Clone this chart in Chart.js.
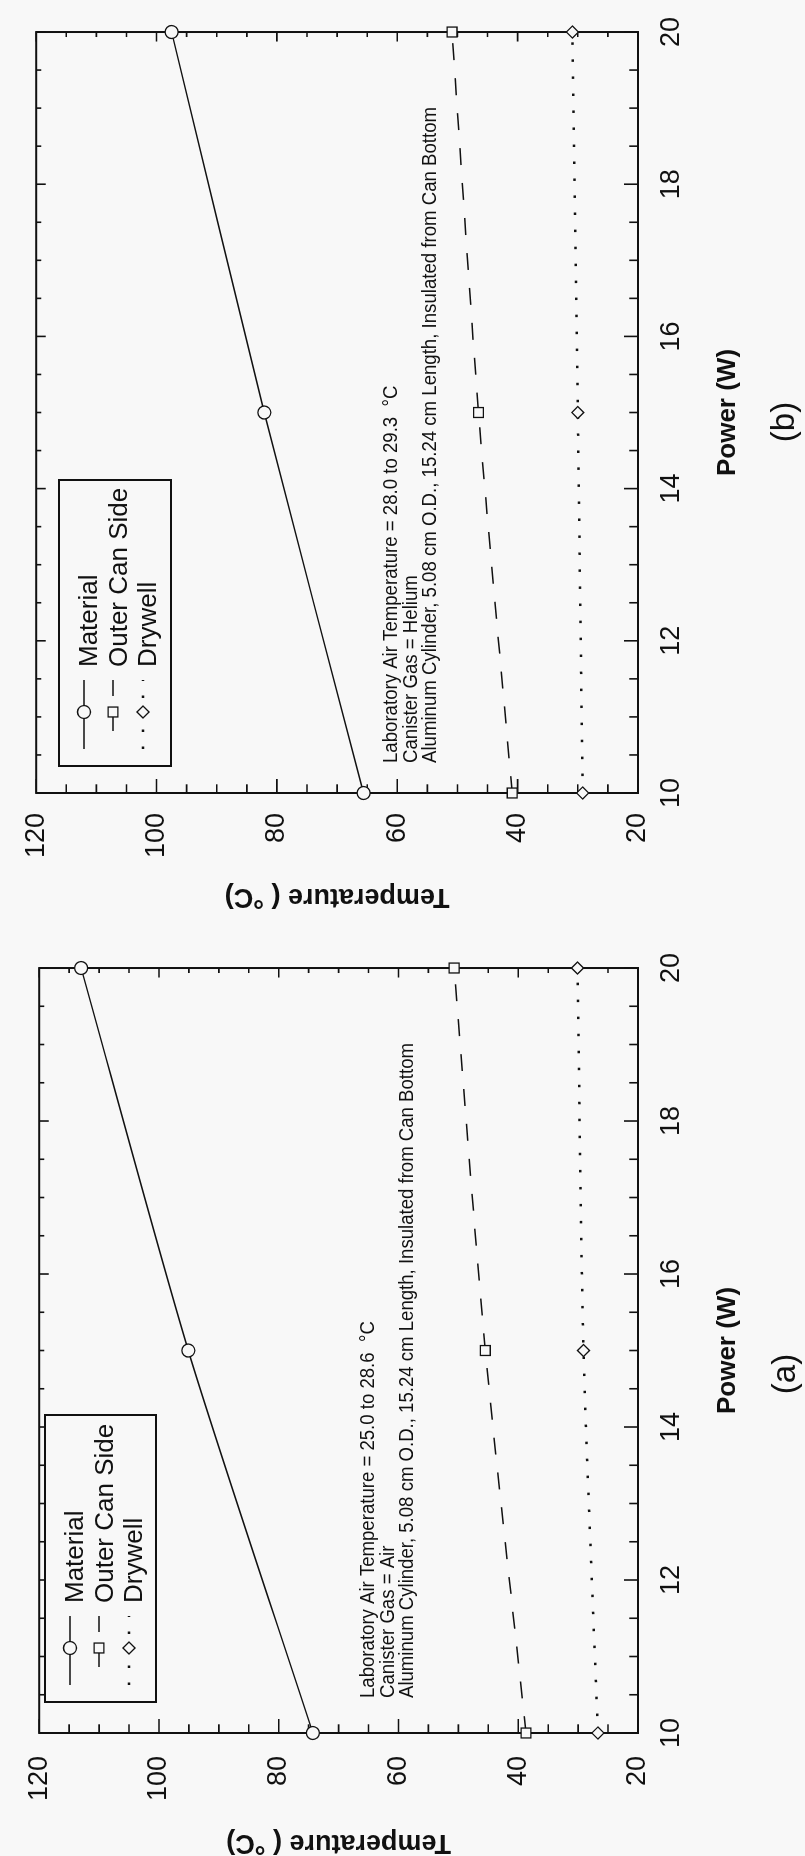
<!DOCTYPE html>
<html>
<head>
<meta charset="utf-8">
<script src="https://cdn.jsdelivr.net/npm/chart.js@4.4.1/dist/chart.umd.min.js"></script>
<style>
  html, body { margin: 0; padding: 0; background: #f8f8f8; }
  body { width: 805px; height: 1856px; position: relative; overflow: hidden; }
  .panel { position: absolute; left: 0; top: 0; width: 920px; height: 805px; transform-origin: 0 0; }
  .panel canvas { display: block; }
  /* the page is printed sideways: draw each plot upright, then turn it */
  #panelB { transform: translate(0, 920px) rotate(-90deg); }
  #panelA { transform: translate(0, 1856px) rotate(-90deg); }
</style>
</head>
<body>
<div class="panel" id="panelB"><canvas id="chartB" width="920" height="805"></canvas></div>
<div class="panel" id="panelA"><canvas id="chartA" width="920" height="805"></canvas></div>
<script>
// data
const powerW = [10, 15, 20];
const seriesNames = ["Material", "Outer Can Side", "Drywell"];

// (a) canister gas = air
const materialA = [74.3, 95.1, 113.0];
const outerCanA = [38.7, 45.5, 50.7];
const drywellA = [26.7, 29.1, 30.1];

// (b) canister gas = helium
const materialB = [65.6, 82.1, 97.5];
const outerCanB = [40.9, 46.5, 50.9];
const drywellB = [29.2, 30.0, 30.9];

const notesA = [
  "Laboratory Air Temperature = 25.0 to 28.6  \u00B0C",
  "Canister Gas = Air",
  "Aluminum Cylinder, 5.08 cm O.D., 15.24 cm Length, Insulated from Can Bottom"
];
const notesB = [
  "Laboratory Air Temperature = 28.0 to 29.3  \u00B0C",
  "Canister Gas = Helium",
  "Aluminum Cylinder, 5.08 cm O.D., 15.24 cm Length, Insulated from Can Bottom"
];

const powerRange = [10, 20];
const tempRange = [20, 120];
const powerMinor = 0.5, powerMajor = 2;
const tempMinor = 5, tempMajor = 20;

const ink = "#111";
const paper = "#f8f8f8";
const FONT = "'Liberation Sans', Arial, Helvetica, sans-serif";

const seriesStyle = [
  { width: 1.5, dash: [], marker: "circle", size: 6.5 },
  { width: 1.5, dash: [17, 18], marker: "rect", size: 7 },
  { width: 2.5, dash: [2.5, 14.5], marker: "rectRot", size: 6 }
];

function isMul(v, step) {
  return Math.abs(v / step - Math.round(v / step)) < 1e-6;
}

const paperPlugin = {
  id: "paper",
  beforeDatasetsDraw(chart, args, opts) {
    const { ctx, chartArea: a, scales: { x, y } } = chart;
    ctx.save();
    ctx.strokeStyle = ink;
    ctx.lineWidth = 2;
    ctx.strokeRect(a.left, a.top, a.right - a.left, a.bottom - a.top);

    // inward ticks, longer on the labelled sides
    ctx.lineWidth = 1.6;
    ctx.beginPath();
    for (let p = x.min; p <= x.max + 1e-9; p += powerMinor) {
      const px = x.getPixelForValue(p);
      const major = isMul(p, powerMajor);
      ctx.moveTo(px, a.bottom); ctx.lineTo(px, a.bottom - (major ? 14 : 8.7));
      ctx.moveTo(px, a.top); ctx.lineTo(px, a.top + (major ? 9.5 : 5));
    }
    for (let t = y.min; t <= y.max + 1e-9; t += tempMinor) {
      const py = y.getPixelForValue(t);
      const major = isMul(t, tempMajor);
      ctx.moveTo(a.left, py); ctx.lineTo(a.left + (major ? 14 : 8.7), py);
      ctx.moveTo(a.right, py); ctx.lineTo(a.right - (major ? 9.5 : 5), py);
    }
    ctx.stroke();
    ctx.restore();
  },
  afterDatasetsDraw(chart, args, opts) {
    const { ctx } = chart;
    ctx.save();
    ctx.fillStyle = ink;
    ctx.strokeStyle = ink;

    // legend box
    const lg = opts.legend;
    ctx.lineWidth = 2;
    ctx.setLineDash([]);
    ctx.fillStyle = paper;
    ctx.fillRect(lg.left, lg.top, lg.width, lg.height);
    ctx.strokeRect(lg.left, lg.top, lg.width, lg.height);
    const sampleY = [25, 54, 84];
    const textY = [38, 68, 96.5];
    chart.data.datasets.forEach((ds, i) => {
      const yy = lg.top + sampleY[i];
      ctx.lineWidth = ds.borderWidth;
      ctx.setLineDash(ds.borderDash);
      ctx.lineDashOffset = i === 1 ? 17 : 0;
      ctx.beginPath();
      ctx.moveTo(lg.left + 17, yy);
      ctx.lineTo(lg.left + 86, yy);
      ctx.stroke();
      ctx.setLineDash([]);
      ctx.lineDashOffset = 0;
      ctx.fillStyle = paper;
      ctx.lineWidth = 1.3;
      Chart.helpers.drawPoint(ctx, { pointStyle: ds.pointStyle, radius: ds.pointRadius, borderWidth: 1.3, rotation: 0 }, lg.left + 54, yy);
      ctx.fillStyle = ink;
      ctx.font = "26px " + FONT;
      ctx.textBaseline = "alphabetic";
      ctx.textAlign = "left";
      ctx.fillText(ds.label, lg.left + 99, lg.top + textY[i]);
    });

    // test conditions note, set in a condensed face
    const nt = opts.note;
    ctx.font = "20px " + FONT;
    const longest = Math.max(...nt.lines.map(s => ctx.measureText(s).width));
    const squeeze = nt.width / longest;
    nt.lines.forEach((s, i) => {
      ctx.fillText(s, nt.left, nt.baselines[i], ctx.measureText(s).width * squeeze);
    });

    // panel caption
    ctx.font = "33px " + FONT;
    ctx.textAlign = "center";
    ctx.textBaseline = "middle";
    ctx.fillText(opts.caption.text, opts.caption.x, opts.caption.y);
    ctx.restore();
  }
};

function buildChart(id, values, decor, fit) {
  const datasets = seriesNames.map((name, i) => ({
    label: name,
    data: powerW.map((p, k) => ({ x: p, y: values[i][k] })),
    showLine: true,
    borderColor: ink,
    borderWidth: seriesStyle[i].width,
    borderDash: seriesStyle[i].dash,
    pointStyle: seriesStyle[i].marker,
    pointRadius: seriesStyle[i].size,
    pointBorderWidth: 1.3,
    pointBorderColor: ink,
    pointBackgroundColor: paper,
    tension: 0.25,
    clip: false
  }));

  return new Chart(document.getElementById(id), {
    type: "scatter",
    data: { datasets },
    plugins: [paperPlugin],
    options: {
      responsive: false,
      animation: false,
      events: [],
      layout: { padding: { top: fit.top, right: 26, bottom: 0, left: 0 } },
      plugins: {
        legend: { display: false },
        tooltip: { enabled: false },
        paper: decor
      },
      scales: {
        x: {
          type: "linear",
          min: powerRange[0], max: powerRange[1],
          grid: { display: false, drawTicks: false },
          border: { display: false },
          ticks: {
            stepSize: powerMajor, color: ink, padding: 17, maxRotation: 0, autoSkip: false,
            font: { family: FONT, size: 27, lineHeight: 1.2 }
          },
          title: {
            display: true, text: "Power (W)", color: ink,
            font: { family: FONT, size: 26, weight: "bold", lineHeight: 1.2 },
            padding: { top: 0, bottom: 62 }
          },
          afterFit(scale) { scale.height = 167; }
        },
        y: {
          type: "linear",
          min: tempRange[0], max: tempRange[1],
          grid: { display: false, drawTicks: false },
          border: { display: false },
          ticks: {
            stepSize: tempMajor, color: ink, padding: fit.labelPad, autoSkip: false,
            font: { family: FONT, size: 27, lineHeight: 1.2 }
          },
          title: {
            display: true, text: "Temperature ( \u00B0C)", color: ink,
            font: { family: FONT, size: 27, weight: "bold", lineHeight: 1 },
            padding: { top: fit.titlePad, bottom: 0 }
          },
          afterFit(scale) { scale.width = fit.left; }
        }
      }
    }
  });
}

buildChart("chartA", [materialA, outerCanA, drywellA], {
  legend: { left: 154, top: 45, width: 287, height: 111 },
  note: { lines: notesA, left: 158, width: 655, baselines: [374, 394, 413] },
  caption: { text: "(a)", x: 482, y: 786 }
}, { top: 23, left: 123, labelPad: 23, titlePad: 0 });

buildChart("chartB", [materialB, outerCanB, drywellB], {
  legend: { left: 154, top: 59, width: 286, height: 112 },
  note: { lines: notesB, left: 157, width: 656, baselines: [397, 417, 436] },
  caption: { text: "(b)", x: 498, y: 785 }
}, { top: 26, left: 127, labelPad: 20, titlePad: 10 });
</script>
</body>
</html>
